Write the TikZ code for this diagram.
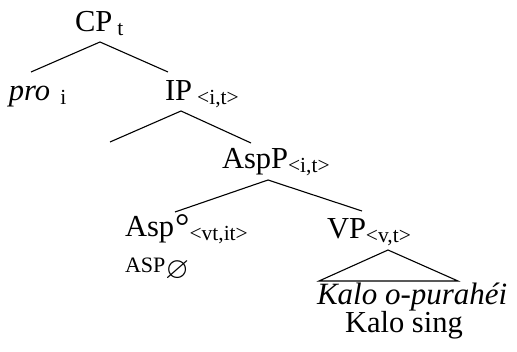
\documentclass[tikz,border=0pt]{standalone}
\usepackage{amssymb}
\usepackage{fontspec}
\setmainfont{Liberation Serif}
\newcommand{\mainf}{\fontsize{30.5}{32}\selectfont}
\newcommand{\subf}{\fontsize{21.5}{22}\selectfont}
\newcommand{\ssub}[1]{\raisebox{-4pt}{\subf #1}}
\begin{document}
\begin{tikzpicture}[x=1pt,y=-1pt,
  lab/.style={anchor=base west,inner sep=0pt,outer sep=0pt},
  branch/.style={line width=1.1pt}]
\useasboundingbox (0,0) rectangle (517,352);
% text nodes
\node[lab] (cp) at (75,32) {\mainf CP\,\ssub{t}};
\node[lab] (pro) at (9,101) {\mainf\itshape pro\,\,\ssub{\upshape i}};
\node[lab] (ip) at (165,101) {\mainf IP\,\ssub{<i,t>}};
\node[lab] (aspp) at (222,169) {\mainf AspP\ssub{<i,t>}};
\node[lab] (asp) at (125,237) {\mainf Asp\kern1pt\raisebox{-2pt}{\fontsize{36}{36}\selectfont °}\ssub{<vt,it>}};
\node[lab] (aspnull) at (125,273) {\fontsize{22}{22}\selectfont ASP\raisebox{-6pt}{\mainf$\varnothing$}};
\node[lab] (vp) at (327,239) {\mainf VP\ssub{<v,t>}};
\node[lab] (gua) at (317,305) {\fontsize{31}{32}\selectfont\itshape Kalo o-purahéi};
\node[lab] (gloss) at (345,333) {\mainf Kalo sing};
% branch points
\coordinate (cpT) at (100,42);
\coordinate (cpL) at (31,72);
\coordinate (cpR) at (168,72);
\coordinate (ipT) at (181,111);
\coordinate (ipL) at (110,142);
\coordinate (ipR) at (251,143);
\coordinate (asppT) at (268,180);
\coordinate (asppL) at (175,212);
\coordinate (asppR) at (362,211);
\coordinate (vpT) at (388,250);
\coordinate (vpL) at (319,281);
\coordinate (vpR) at (458,281);
% branches
\draw[branch] (cpL) -- (cpT) -- (cpR);
\draw[branch] (ipL) -- (ipT) -- (ipR);
\draw[branch] (asppL) -- (asppT) -- (asppR);
\draw[branch] (vpT) -- (vpL) -- (vpR) -- cycle;
\end{tikzpicture}
\end{document}
